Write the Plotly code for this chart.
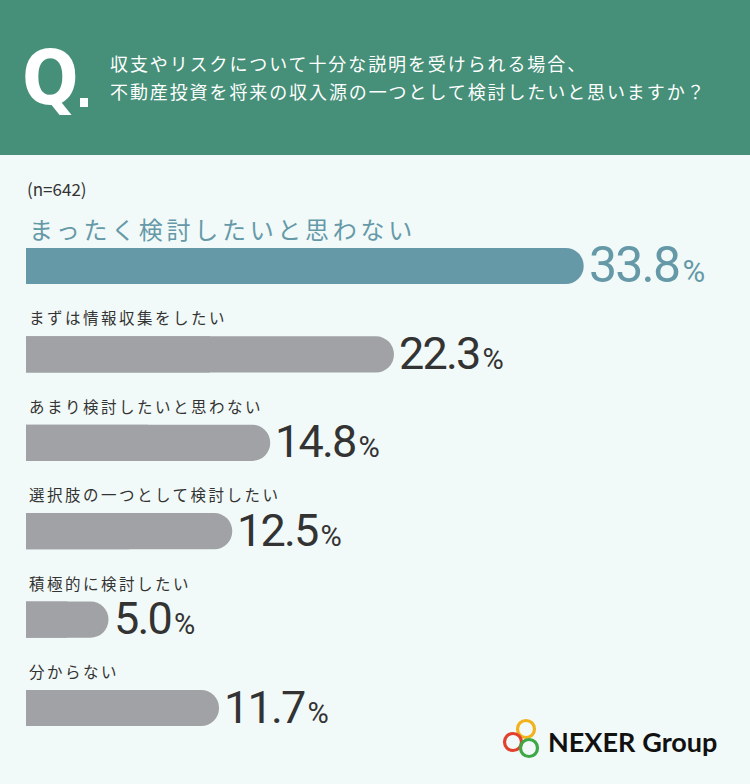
import plotly.graph_objects as go

# survey data
categories = [
    "まったく検討したいと思わない",
    "まずは情報収集をしたい",
    "あまり検討したいと思わない",
    "選択肢の一つとして検討したい",
    "積極的に検討したい",
    "分からない",
]
values = [33.8, 22.3, 14.8, 12.5, 5.0, 11.7]
sample_label = "(n=642)"
question_lines = [
    "収支やリスクについて十分な説明を受けられる場合、",
    "不動産投資を将来の収入源の一つとして検討したいと思いますか？",
]

HEADER = "#468f78"
BG = "#f1faf8"
ACCENT = "#6699a8"
GREY = "#a1a2a6"
DARK = "#333333"
JP = "Noto Sans CJK JP"
NUM = "Roboto"

colors = [ACCENT] + [GREY] * (len(values) - 1)

fig = go.Figure()
# rounded bar (right end), then square overlay on the left half
fig.add_trace(go.Bar(
    x=values, y=categories, orientation="h", width=0.41,
    marker=dict(color=colors, cornerradius=18, line_width=0),
    hoverinfo="skip",
))
fig.add_trace(go.Bar(
    x=[v / 2 for v in values], y=categories, orientation="h", width=0.41,
    marker=dict(color=colors, line_width=0),
    hoverinfo="skip",
))

annotations = []
for i, (cat, v) in enumerate(zip(categories, values)):
    first = i == 0
    annotations.append(dict(
        x=0, y=cat, xref="x", yref="y", xanchor="left", yanchor="middle",
        yshift=38 if first else 37, xshift=1,
        text=f"<span style='letter-spacing:{3.7 if first else 2.5}px'>{cat}</span>",
        showarrow=False,
        font=dict(family=JP, size=24 if first else 15.5, color=ACCENT if first else DARK),
    ))
    annotations.append(dict(
        x=v, y=cat, xref="x", yref="y", xanchor="left", yanchor="middle",
        xshift=3, yshift=1,
        text=(f"<span style='letter-spacing:-1.8px'>{v:.1f}</span>"
              f"<span style='font-size:{31 if first else 29}px'>\u200a%</span>"),
        showarrow=False,
        font=dict(family=NUM, size=50 if first else 45, color=ACCENT if first else DARK),
    ))

# header text
annotations.append(dict(
    x=20 / 750, y=1 - 78 / 784, xref="paper", yref="paper", xanchor="left", yanchor="middle",
    text="Q", showarrow=False,
    font=dict(family="DejaVu Sans Condensed", size=74, color="white", weight="bold"),
))
for j, line in enumerate(question_lines):
    annotations.append(dict(
        x=108 / 750, y=1 - (63 + 28 * j) / 784, xref="paper", yref="paper",
        xanchor="left", yanchor="middle",
        text=f"<span style='letter-spacing:1.9px'>{line}</span>", showarrow=False,
        font=dict(family=JP, size=18, color="white"),
    ))
annotations.append(dict(
    x=25 / 750, y=1 - 188 / 784, xref="paper", yref="paper", xanchor="left", yanchor="middle",
    text=sample_label, showarrow=False, font=dict(family=JP, size=17, color=DARK),
))
annotations.append(dict(
    x=546 / 750, y=1 - 741 / 784, xref="paper", yref="paper", xanchor="left", yanchor="middle",
    text="<b>NEXER</b> <b>Group</b>", showarrow=False,
    font=dict(family="Lato", size=27, color="#111111"),
))


def px(xp, yp):
    return xp / 750, 1 - yp / 784


shapes = [
    dict(type="rect", xref="paper", yref="paper", x0=0, x1=1, y0=1 - 155 / 784, y1=1,
         fillcolor=HEADER, line_width=0, layer="below"),
]
x0, y0 = px(80, 98)
x1, y1 = px(88, 107)
shapes.append(dict(type="rect", xref="paper", yref="paper", x0=x0, x1=x1, y0=y1, y1=y0,
                   fillcolor="white", line_width=0))
for (cx, cy, col) in [(526, 729, "#f2b21b"), (513, 742, "#e2412f"), (529, 748, "#3ea845")]:
    a0, b0 = px(cx - 8.5, cy - 8.5)
    a1, b1 = px(cx + 8.5, cy + 8.5)
    shapes.append(dict(type="circle", xref="paper", yref="paper", x0=a0, x1=a1, y0=b1, y1=b0,
                       line=dict(color=col, width=3.2), fillcolor="rgba(0,0,0,0)"))

px_per_pt = 16.5
top_val = -266 / 88.4
bottom_val = top_val + 784 / 88.4

fig.update_layout(
    width=750, height=784, margin=dict(l=0, r=0, t=0, b=0),
    paper_bgcolor=BG, plot_bgcolor="rgba(0,0,0,0)",
    barmode="overlay", showlegend=False,
    xaxis=dict(domain=[26 / 750, 1], range=[0, 724 / px_per_pt], visible=False, fixedrange=True),
    yaxis=dict(range=[bottom_val, top_val], visible=False, fixedrange=True,
               categoryorder="array", categoryarray=categories),
    annotations=annotations, shapes=shapes,
)

fig.write_html("out.html", config={"displayModeBar": False},
               post_script="document.body.style.margin='0';")
